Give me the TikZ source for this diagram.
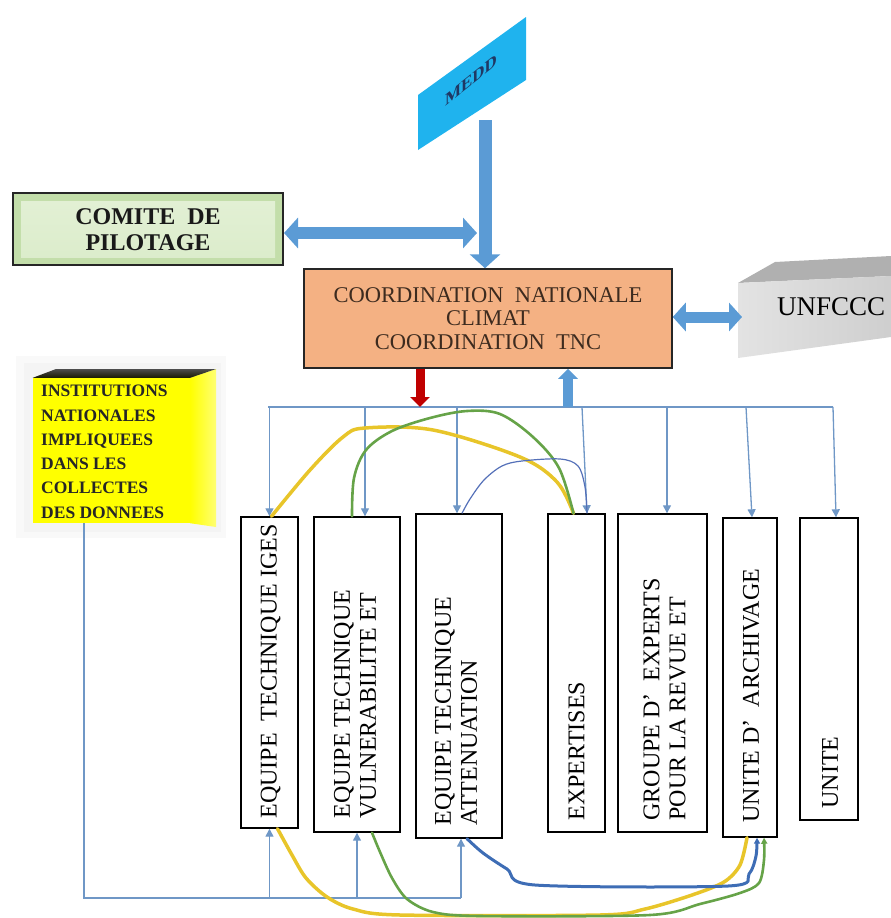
\documentclass[tikz,border=0pt]{standalone}
\usepackage{fontspec}
\setmainfont{Liberation Serif}
\usetikzlibrary{arrows.meta,calc}

\definecolor{thinblue}{HTML}{6F97C6}
\definecolor{bigblue}{HTML}{5B9BD5}
\definecolor{coordfill}{HTML}{F4B183}
\definecolor{coordtext}{HTML}{3D2B1F}
\definecolor{meddblue}{HTML}{1FB3EE}
\definecolor{meddtext}{HTML}{1F3864}
\definecolor{redarrow}{HTML}{C00000}
\definecolor{ylwcurve}{HTML}{E8C52A}
\definecolor{grncurve}{HTML}{66A348}
\definecolor{dbluecurve}{HTML}{3E6DB5}
\definecolor{pblue}{HTML}{5470B8}
\definecolor{comitefill}{HTML}{C3DEAA}
\definecolor{comiteinner}{HTML}{E2F0D4}
\definecolor{instyellow}{HTML}{FFFF00}

\tikzset{
  colbox/.style={draw=black, line width=1.4pt, inner sep=0pt},
  coltext/.style={rotate=90, anchor=west, align=left, inner sep=0pt,
    font=\fontsize{24}{26}\selectfont},
  thinline/.style={draw=thinblue, line width=1.3pt},
  thinarrow/.style={draw=thinblue, line width=1.3pt,
    -{Triangle[length=8pt,width=8pt]}},
  bigarrow/.style={draw=bigblue, line width=13pt,
    -{Triangle[length=14pt,width=30pt]}},
  bigdouble/.style={draw=bigblue, line width=12pt,
    {Triangle[length=14pt,width=30pt]}-{Triangle[length=14pt,width=30pt]}},
  curvey/.style={draw=ylwcurve, line width=3.5pt, line cap=round, line join=round},
  curveg/.style={draw=grncurve, line width=2.6pt, line cap=round, line join=round},
  curveb/.style={draw=dbluecurve, line width=3pt, line cap=round, line join=round},
  smallhead/.style={-{Triangle[length=6pt,width=6pt]}}
}

\begin{document}
\begin{tikzpicture}[x=1pt,y=-1pt]
\useasboundingbox (0,0) rectangle (891,918);

% ---------------- MEDD ----------------
\fill[meddblue] (418,95) -- (526,17) -- (526,80) -- (418,150) -- cycle;
\node[yslant=0.8, text=meddtext, font=\bfseries\fontsize{17}{19}\selectfont, inner sep=0pt] (medd) at (471,80) {MEDD};
\coordinate (meddfoot) at (485,120);

% ---------------- COMITE ----------------
\node[draw=black!85, line width=2pt, fill=comitefill, minimum width=270pt, minimum height=72pt, inner sep=0pt] (comite) at (148,229) {};
\shade[top color=comiteinner, bottom color=comiteinner!80!comitefill] ($(comite.south west)+(9,-9)$) rectangle ($(comite.north east)+(-9,9)$);
\node[font=\bfseries\fontsize{24}{26}\selectfont, align=center, text=black!90] (comitetext) at (148,230) {COMITE\ \ DE\\PILOTAGE};

% ---------------- COORDINATION ----------------
\node[draw=black!85, line width=1.5pt, fill=coordfill, minimum width=368pt, minimum height=99pt, inner sep=0pt,
      align=center, text=coordtext, font=\fontsize{22.5}{23.5}\selectfont] (coord) at (488,318.5)
  {COORDINATION\ \ NATIONALE\\CLIMAT\\COORDINATION\ \ TNC};

% ---------------- UNFCCC ----------------
\fill[gray!62] (738,283) -- (775,262) -- (891,256) -- (891,276) -- cycle;
\shade[left color=gray!22, right color=gray!38] (738,283) -- (891,276) -- (891,337) -- (738,358) -- cycle;
\node[anchor=west, font=\fontsize{27}{29}\selectfont, inner sep=0pt] (unftext) at (777,307) {UNFCCC};
\coordinate (unfin) at (742,317);

% ---------------- INSTITUTIONS ----------------
\fill[gray!5] (16,356) rectangle (226,538);
\fill[gray!9] (24,363) rectangle (221,532);
\node[fill=instyellow, minimum width=157pt, minimum height=145pt, inner sep=0pt] (instit) at (111.5,450.5) {};
\shade[left color=instyellow, right color=yellow!55] (instit.north east) -- (216,369) -- (216,527) -- (instit.south east) -- cycle;
\shade[top color=black!70, bottom color=black!90!yellow] (instit.north west) -- (instit.north east) -- (216,369) -- (56,369) -- cycle;
\node[anchor=north west, align=left, inner sep=0pt, text=black!85,
      font=\bfseries\fontsize{17.5}{24.3}\selectfont] (insttext) at (41,385)
  {INSTITUTIONS\\NATIONALES\\IMPLIQUEES\\DANS LES\\COLLECTES\\DES DONNEES};

% ---------------- column boxes ----------------
\node[colbox, minimum width=57pt, minimum height=311pt] (iges) at (269.5,672.5) {};
\node[colbox, minimum width=86pt, minimum height=315pt] (vul)  at (357,674.5) {};
\node[colbox, minimum width=86pt, minimum height=324pt] (att)  at (459,676) {};
\node[colbox, minimum width=57pt, minimum height=318pt] (exp)  at (576.5,673) {};
\node[colbox, minimum width=89pt, minimum height=318pt] (grp)  at (662.5,673) {};
\node[colbox, minimum width=54pt, minimum height=319pt] (arch) at (750,677.5) {};
\node[colbox, minimum width=58pt, minimum height=302pt] (unit) at (829,669) {};

\node[coltext] (igestext) at ($(iges.south)+(1,-10)$) {EQUIPE\ \ TECHNIQUE IGES};
\node[coltext] (vultext)  at ($(vul.south)+(-2,-14)$) {EQUIPE TECHNIQUE\\VULNERABILITE ET};
\node[coltext] (atttext)  at ($(att.south)+(-3,-13)$) {EQUIPE TECHNIQUE\\ATTENUATION};
\node[coltext] (exptext)  at ($(exp.south)+(0,-12)$) {EXPERTISES};
\node[coltext] (grptext)  at ($(grp.south)+(2,-12)$) {GROUPE D’\ \ EXPERTS\\POUR LA REVUE ET};
\node[coltext] (archtext) at ($(arch.south)+(1,-15)$) {UNITE D’\ \ ARCHIVAGE};
\node[coltext] (unittext) at ($(unit.south)+(1,-12)$) {UNITE};

% ---------------- big arrows ----------------
\coordinate (cj) at (477,233);
\draw[bigarrow] (meddfoot) -- (meddfoot |- coord.north);
\draw[bigdouble] (comite.east |- cj) -- (cj);
\draw[bigdouble, line width=11pt, {Triangle[length=13pt,width=28pt]}-{Triangle[length=13pt,width=28pt]}] (coord.east |- unfin) -- (unfin);

% ---------------- distribution ----------------
\coordinate (dl) at (268,407);
\coordinate (dr) at (833,407);
\draw[thinline] (dl) -- (dr);
\coordinate (redtop) at ($(coord.south)+(-68,0)$);
\coordinate (bluetop) at ($(coord.south)+(80,0)$);
\draw[draw=redarrow, line width=9pt, -{Triangle[length=10pt,width=19pt]}] (redtop) -- (redtop |- dl);
\draw[draw=bigblue, line width=10pt, -{Triangle[length=10pt,width=19pt]}] (bluetop |- dl) -- (bluetop);

\coordinate (vulin) at ($(vul.north)+(8,0)$);
\coordinate (attin) at ($(att.north)+(-2,0)$);
\coordinate (expin) at ($(exp.north)+(10.5,0)$);
\coordinate (grpin) at ($(grp.north)+(4.5,0)$);
\coordinate (archin) at ($(arch.north)+(2,0)$);
\coordinate (unitin) at ($(unit.north)+(7,0)$);
\draw[thinarrow] (iges.north |- dl) -- (iges.north);
\draw[thinarrow] (vulin |- dl) -- (vulin);
\draw[thinarrow] (attin |- dl) -- (attin);
\draw[thinarrow] ($(expin |- dl)+(-5,0)$) -- (expin);
\draw[thinarrow] (grpin |- dl) -- (grpin);
\draw[thinarrow] ($(archin |- dl)+(-6,0)$) -- (archin);
\draw[thinarrow] ($(unitin |- dl)+(-3,0)$) -- (unitin);

% ---------------- feedback ----------------
\coordinate (fbtop) at (84,523);
\coordinate (fbcorner) at (84,898);
\coordinate (attout) at ($(att.south)+(2,0)$);
\draw[thinline] (fbtop) -- (fbcorner) -- (attout |- fbcorner);
\draw[thinarrow] (iges.south |- fbcorner) -- (iges.south);
\draw[thinarrow] (vul.south |- fbcorner) -- (vul.south);
\draw[thinarrow] (attout |- fbcorner) -- (attout);

% ---------------- top curves ----------------
\coordinate (igestop) at ($(iges.north)+(2,0)$);
\coordinate (vultop) at ($(vul.north)+(-5,0)$);
\coordinate (atttop) at ($(att.north)+(3,0)$);
\coordinate (exptop) at ($(exp.north)+(-3,0)$);
\draw[curvey] plot[smooth, tension=0.55] coordinates {(igestop) (310,470) (343,437) (365,428) (433,430) (520,457) (557,482) (exptop)};
\draw[curveg] plot[smooth, tension=0.55] coordinates {(vultop) (354,478) (366,450) (392,431) (430,418) (467,411) (500,414) (533,437) (559,468) (exptop)};
\draw[draw=pblue, line width=1.2pt] plot[smooth, tension=0.55] coordinates {(atttop) (470,499) (484,480) (502,466) (522,461) (560,459) (578,466) (585,487) (expin)};

% ---------------- bottom curves ----------------
\coordinate (igesbot) at ($(iges.south)+(8,0)$);
\coordinate (vulbot) at ($(vul.south)+(15,0)$);
\coordinate (attbot) at ($(att.south)+(8,0)$);
\coordinate (archy) at ($(arch.south)+(-3,0)$);
\coordinate (archb) at ($(arch.south)+(7,0)$);
\coordinate (archg) at ($(arch.south)+(14,0)$);
\draw[curvey] plot[smooth, tension=0.5] coordinates {(igesbot) (292,855) (306,878) (327,897) (353,909) (400,915) (600,915) (645,909) (692,895) (724,882) (740,865) (archy)};
\draw[curveg, smallhead] plot[smooth, tension=0.5] coordinates {(vulbot) (380,852) (392,878) (407,899) (433,912) (480,916) (650,915) (700,904) (740,893) (759,883) (764,860) (archg)};
\draw[curveb, smallhead] plot[smooth, tension=0.5] coordinates {(attbot) (483,853) (507,869) (535,885) (728,886) (749,874) (756,856) (archb)};

\end{tikzpicture}
\end{document}
